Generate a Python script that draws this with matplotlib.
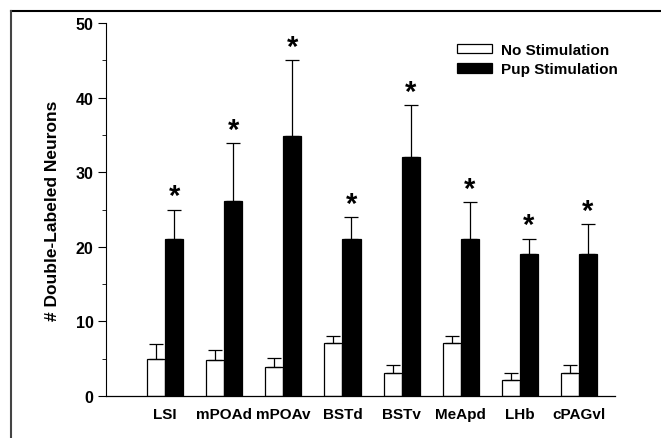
import matplotlib
matplotlib.use("Agg")
from matplotlib import pyplot as plt
from matplotlib.lines import Line2D
import numpy as np

# valori
regiuni = ["LSI", "mPOAd", "mPOAv", "BSTd", "BSTv", "MeApd", "LHb", "cPAGvl"]
fara_stim = [5.0, 4.8, 3.9, 7.1, 3.1, 7.1, 2.1, 3.1]
fara_stim_err = [2.0, 1.4, 1.2, 1.0, 1.0, 1.0, 1.0, 1.0]
cu_stim = [21.0, 26.2, 34.8, 21.0, 32.0, 21.0, 19.1, 19.1]
cu_stim_err = [4.0, 7.7, 10.2, 3.0, 7.0, 5.0, 2.0, 4.0]

plt.rcParams['font.family'] = ['Liberation Sans', 'DejaVu Sans']
plt.rcParams['font.weight'] = 'bold'

fig = plt.figure(figsize=(6.61, 4.39), dpi=100)
ax = fig.add_axes([106/661, 1-397/439, (615-106)/661, (397-24)/439])

x = np.arange(1, len(regiuni)+1)
w = 0.305
ax.bar(x - w/2, fara_stim, w, color='white', edgecolor='black', linewidth=0.9, label='No Stimulation')
ax.bar(x + w/2, cu_stim, w, color='black', edgecolor='black', linewidth=0.9, label='Pup Stimulation')
ax.errorbar(x - w/2, fara_stim, yerr=[np.zeros(len(x)), fara_stim_err], fmt='none',
            ecolor='black', elinewidth=0.9, capsize=5, capthick=0.9)
ax.errorbar(x + w/2, cu_stim, yerr=[np.zeros(len(x)), cu_stim_err], fmt='none',
            ecolor='black', elinewidth=0.9, capsize=5, capthick=0.9)

# asteriscuri deasupra barelor negre
for xi, v, e in zip(x, cu_stim, cu_stim_err):
    ax.text(xi + w/2, v + e + 0.7, '*', ha='center', va='baseline', fontsize=21, fontweight='bold')

ax.set_xlim(0, 8.61)
ax.set_ylim(0, 50)
ax.set_yticks([0, 10, 20, 30, 40, 50])
ax.set_yticks([5, 15, 25, 35, 45], minor=True)
ax.set_xticks(x)
ax.set_xticklabels(regiuni, fontsize=11, fontweight='bold')
ax.tick_params(axis='x', length=0, pad=8)
ax.tick_params(axis='y', which='major', length=6, width=0.8, labelsize=11.5, pad=3)
ax.tick_params(axis='y', which='minor', length=3, width=0.6)
for lab in ax.get_yticklabels():
    lab.set_fontweight('bold')
ax.spines['top'].set_visible(False)
ax.spines['right'].set_visible(False)
ax.spines['left'].set_linewidth(0.8)
ax.spines['bottom'].set_linewidth(0.9)
ax.set_ylabel('# Double-Labeled Neurons', fontsize=12.5, fontweight='bold', labelpad=11)

leg = ax.legend(loc='upper left', bbox_to_anchor=((457-106)/(615-106), 1-(44-24)/(397-24)),
                frameon=False, fontsize=11, handlelength=2.3, handleheight=0.55,
                handletextpad=0.6, labelspacing=0.35, borderaxespad=0, borderpad=0)
for t in leg.get_texts():
    t.set_fontweight('bold')

# ramele paginii
fig.add_artist(Line2D([11/661, 1.0], [1-12/439, 1-12/439], color='black', linewidth=1.5))
fig.add_artist(Line2D([11/661, 11/661], [0.0, 1-12/439], color='#444444', linewidth=1.5))

fig.savefig('out.png', dpi=100)
